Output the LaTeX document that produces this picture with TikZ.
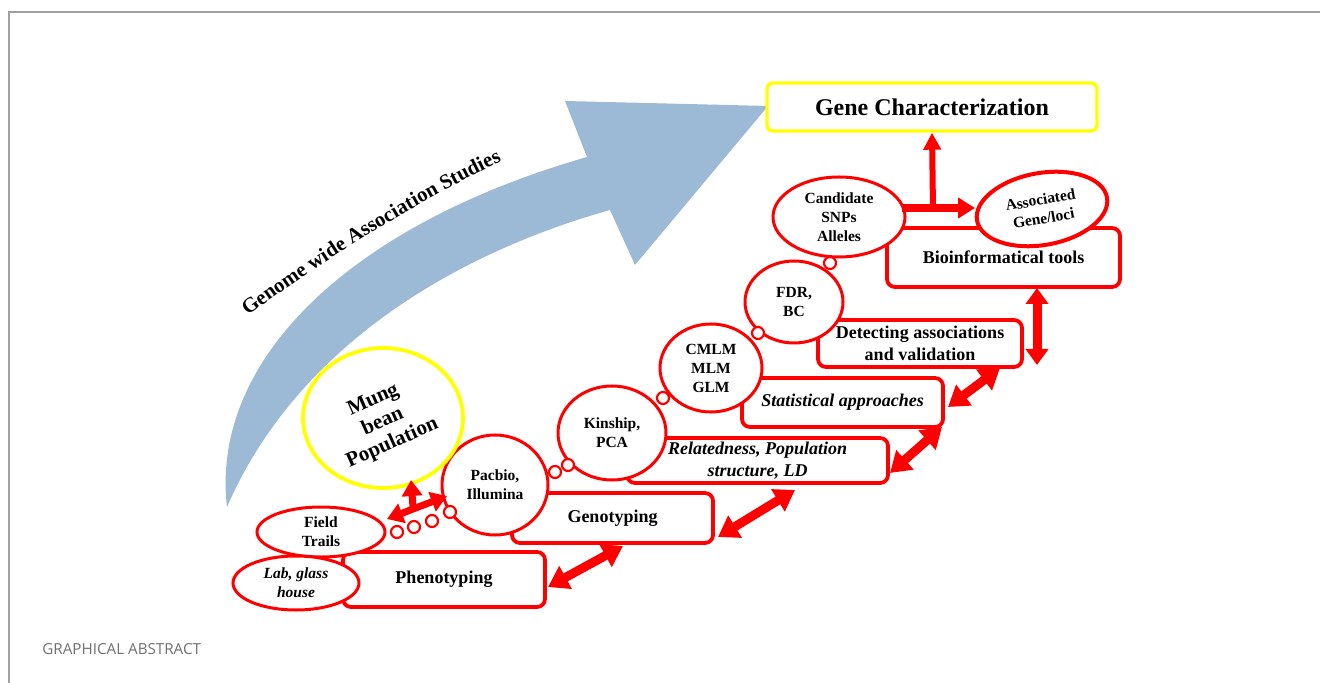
\documentclass[tikz,border=0pt]{standalone}
\usepackage{fontspec}
\setmainfont{Liberation Serif}
\newfontfamily\capfont{Open Sans}
\usetikzlibrary{arrows.meta,shapes.geometric,decorations.text}

\definecolor{gwblue}{RGB}{156,185,213}
\definecolor{framegray}{RGB}{160,160,160}
\definecolor{capgray}{RGB}{112,112,112}
\definecolor{ylw}{RGB}{255,255,0}

\newcommand\gwfont{\fontsize{10.4pt}{12pt}\selectfont\bfseries}

\begin{document}
\begin{tikzpicture}[x=0.5pt,y=-0.5pt,
  rbox/.style={draw=red, line width=1.9pt, rounded corners=4pt, fill=white,
    inner sep=0pt, font=\fontsize{9}{11}\selectfont\bfseries, align=center},
  roval/.style={ellipse, draw=red, line width=1.5pt, fill=white, inner sep=0pt,
    font=\fontsize{7.75}{9.5}\selectfont\bfseries, align=center},
  ybox/.style={draw=ylw, line width=1.7pt, rounded corners=3pt, fill=white,
    inner sep=0pt, font=\fontsize{12}{14}\selectfont\bfseries},
  link/.style={circle, draw=red, line width=1.1pt, fill=white, inner sep=0pt,
    minimum size=6pt},
  dblarrow/.style={draw=red, line width=4.5pt,
    {Triangle[length=10pt,width=12.5pt]}-{Triangle[length=10pt,width=12.5pt]}},
  smallarrow/.style={draw=red, line width=3.5pt,
    {Triangle[length=8pt,width=10pt]}-{Triangle[length=8pt,width=10pt]}},
]
% page and frame
\fill[white] (0,0) rectangle (1320,683);
\useasboundingbox (0,0) rectangle (1320,683);
\draw[framegray, line width=1.25pt] (9,683) -- (9,12) -- (1320,12);

% the large curved GWAS arrow
\fill[gwblue] (227,507) .. controls (210,360) and (350,225) .. (587,157)
  -- (565,101) -- (768,106) -- (635,265) -- (610,210)
  .. controls (450,255) and (295,350) .. cycle;

% curved caption above the arrow
\coordinate (g1) at (245,318);
\coordinate (g2) at (300,276);
\coordinate (g3) at (420,198);
\coordinate (g4) at (505,160);
\path[decorate, decoration={text along path, text align=center,
  text={|\gwfont|Genome wide Association Studies}}]
  (g1) .. controls (g2) and (g3) .. (g4);

% top target
\node[ybox, minimum width=165pt, minimum height=24pt] (gene) at (932,107) {Gene Characterization};

% step boxes
\node[rbox, minimum width=116.5pt, minimum height=29.5pt] (bio) at (1003.5,257.5) {Bioinformatical tools};
\node[rbox, minimum width=102pt, minimum height=23.5pt] (detect) at (920,343.5) {Detecting associations\\and validation};
\node[rbox, minimum width=100.5pt, minimum height=24.5pt] (stat) at (842.5,402.5) {\itshape Statistical approaches};
\node[rbox, minimum width=130.5pt, minimum height=22.5pt] (relat) at (757.5,460.5) {\itshape Relatedness, Population\\\itshape structure, LD};
\node[rbox, minimum width=100.5pt, minimum height=25pt] (geno) at (612.5,518) {Genotyping};
\node[rbox, minimum width=101pt, minimum height=27.5pt] (pheno) at (444,579.5) {Phenotyping};

% ovals over the boxes
\node[roval, minimum width=66pt, minimum height=40pt] (cand) at (839,217) {Candidate\\SNPs\\Alleles};
\node[roval, line width=2pt, rotate=10, minimum width=66pt, minimum height=36pt] (assoc) at (1042,209) {Associated\\Gene/loci};
\node[roval, minimum width=49pt, minimum height=41pt] (fdr) at (794,302) {FDR,\\BC};
\node[roval, minimum width=51pt, minimum height=44pt] (cmlm) at (711,368) {CMLM\\MLM\\GLM};
\node[roval, minimum width=54pt, minimum height=47pt] (kin) at (612,433) {Kinship,\\PCA};
\node[roval, minimum width=53pt, minimum height=50pt] (pac) at (495,485) {Pacbio,\\Illumina};
\node[roval, minimum width=64pt, minimum height=25pt] (field) at (321,532) {Field\\Trails};
\node[roval, minimum width=63pt, minimum height=27pt] (lab) at (296,583) {\itshape Lab, glass\\\itshape house};

% population circle
\node[ellipse, draw=ylw, line width=1.9pt, fill=white, minimum width=80pt, minimum height=70pt] (mung) at (383,418) {};
\node[rotate=24, font=\fontsize{10.5}{11.8}\selectfont\bfseries, align=center] (mungtext) at (383,422) {Mung\\bean\\Population};

% chain links
\node[link] (k1) at (397,532) {};
\node[link] (k2) at (414,527) {};
\node[link] (k3) at (432,521) {};
\node[link] (k4) at (450,512) {};
\node[link] (k5) at (555,472) {};
\node[link] (k6) at (568,465) {};
\node[link] (k7) at (663,398) {};
\node[link] (k8) at (758,333) {};
\node[link] (k9) at (830,263) {};

% double arrows between steps
\coordinate (p1) at (548,587);  \coordinate (q1) at (623,546);
\coordinate (p2) at (718,537);  \coordinate (q2) at (795,490);
\coordinate (p3) at (890,473);  \coordinate (q3) at (942,427);
\coordinate (p4) at (948,407);  \coordinate (q4) at (1000,368);
\coordinate (p5) at (1037,365); \coordinate (q5) at (1037,288);
\draw[dblarrow] (p1) -- (q1);
\draw[dblarrow] (p2) -- (q2);
\draw[dblarrow] (p3) -- (q3);
\draw[dblarrow] (p4) -- (q4);
\draw[draw=red, line width=4.5pt,
  {Triangle[length=8pt,width=11pt]}-{Triangle[length=8pt,width=11pt]}] (p5) -- (q5);

% arrows around the population
\coordinate (m1) at (387,519);
\coordinate (m2) at (447,496);
\coordinate (mb) at (413,507);
\coordinate (mt) at (411,480);
\draw[smallarrow] (m1) -- (m2);
\draw[draw=red, line width=3.5pt, -{Triangle[length=8pt,width=10pt]}] (mb) -- (mt);

% candidate to associated loci and gene characterization
\coordinate (c1) at (902,208);
\coordinate (c2) at (975,208);
\coordinate (cb) at (933,210);
\draw[draw=red, line width=4pt, -{Triangle[length=8.5pt,width=10pt]}] (c1) -- (c2);
\draw[draw=red, line width=3pt, -{Triangle[length=8.5pt,width=8.5pt]}] (cb) -- (gene.south);

% caption
\node[anchor=west, inner sep=0pt, text=capgray, font=\capfont\fontsize{7.6}{9}\selectfont] (cap) at (42,649) {GRAPHICAL ABSTRACT};
\end{tikzpicture}
\end{document}
